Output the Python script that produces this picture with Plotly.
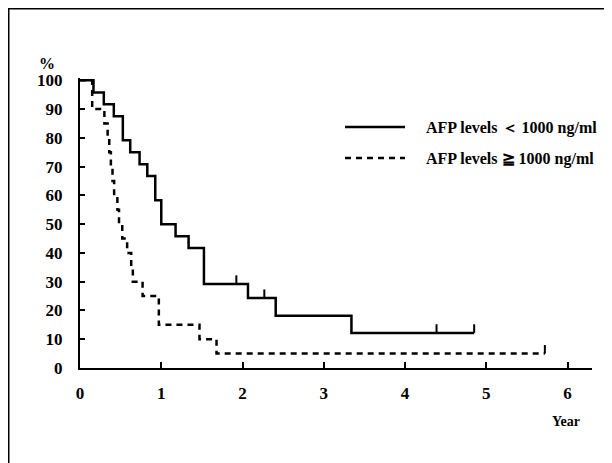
import plotly.graph_objects as go

# ---- data ----
solid_times = [0, 0.166, 0.293, 0.416, 0.527, 0.618, 0.733, 0.828, 0.926, 1.0, 1.176,
               1.336, 1.525, 2.067, 2.408, 3.34, 4.85]
solid_surv = [100, 95.8, 91.7, 87.5, 79.2, 75.0, 70.8, 66.7, 58.3, 50.0, 45.8,
              41.7, 29.2, 24.3, 18.2, 12.2, 12.2]
solid_cens_t = [1.924, 2.268, 4.387, 4.85]
solid_cens_s = [29.2, 24.3, 12.2, 12.2]

dash_times = [0, 0.15, 0.30, 0.34, 0.36, 0.38, 0.40, 0.42, 0.46, 0.48, 0.52, 0.58,
              0.63, 0.65, 0.77, 0.97, 1.47, 1.68, 5.72]
dash_surv = [100, 90, 85, 80, 75, 70, 65, 60, 55, 50, 45, 40, 35, 30, 25, 15, 10, 5, 5]
dash_cens_t = [5.72]
dash_cens_s = [5]

x_ticks = [0, 1, 2, 3, 4, 5, 6]
y_ticks = [0, 10, 20, 30, 40, 50, 60, 70, 80, 90, 100]

label_lo = "\u00a0\u00a0\u00a0\u00a0AFP levels ＜ 1000 ng/ml"
label_hi = "\u00a0\u00a0\u00a0\u00a0AFP levels ≧ 1000 ng/ml"

FONT = "Liberation Serif"

fig = go.Figure()
fig.add_trace(go.Scatter(x=solid_times, y=solid_surv, mode="lines", line_shape="hv",
                         line=dict(color="black", width=2.5), name=label_lo,
                         legend="legend"))
fig.add_trace(go.Scatter(x=dash_times, y=dash_surv, mode="lines", line_shape="hv",
                         line=dict(color="black", width=2.5, dash="6px,5px"), name=label_hi,
                         legend="legend2"))
# censor marks (vertical ticks above the curve)
for t, s in ((solid_cens_t, solid_cens_s), (dash_cens_t, dash_cens_s)):
    fig.add_trace(go.Scatter(x=t, y=s, mode="markers", marker=dict(size=1, color="rgba(0,0,0,0)"),
                             error_y=dict(type="data", symmetric=False, array=[3] * len(t),
                                          arrayminus=[0] * len(t), thickness=2, width=0,
                                          color="black"),
                             showlegend=False, hoverinfo="skip"))

# page body adds an 8px offset; positions below are in figure pixels
OFF = 8
W, H = 612, 463
ML, MT = 80 - OFF, 78 - OFF
PR, PB = 592 - OFF, 368 - OFF
MR, MB = W - PR, H - PB
pw, ph = W - ML - MR, H - MT - MB

def px2x(px):
    return (px - OFF - ML) / pw

def px2y(py):
    return (H - MB - (py - OFF)) / ph

fig.update_layout(
    width=W, height=H,
    margin=dict(l=ML, r=MR, t=MT, b=MB),
    paper_bgcolor="white", plot_bgcolor="white",
    font=dict(family=FONT, color="black"),
    xaxis=dict(range=[0, 6.30], tickvals=x_ticks, ticktext=[str(v) for v in x_ticks],
               showgrid=False, zeroline=False, showline=True, linecolor="black", linewidth=2,
               ticks="inside", ticklen=6, tickwidth=1.5, tickcolor="black",
               tickfont=dict(family=FONT, size=17, weight="bold"), ticklabelstandoff=9),
    yaxis=dict(range=[0, 100.8], tickvals=y_ticks, ticktext=[str(v) for v in y_ticks],
               showgrid=False, zeroline=False, showline=True, linecolor="black", linewidth=2,
               ticks="inside", ticklen=5, tickwidth=1.5, tickcolor="black",
               tickfont=dict(family=FONT, size=17, weight="bold"), ticklabelstandoff=12),
    legend=dict(x=px2x(340), y=px2y(127), xanchor="left", yanchor="middle",
                font=dict(family=FONT, size=16, weight="bold"), itemwidth=60,
                bgcolor="rgba(0,0,0,0)"),
    legend2=dict(x=px2x(340), y=px2y(158), xanchor="left", yanchor="middle",
                 font=dict(family=FONT, size=16, weight="bold"), itemwidth=60,
                 bgcolor="rgba(0,0,0,0)"),
    shapes=[dict(type="rect", xref="paper", yref="paper",
                 x0=(0.75 - ML) / pw, x1=px2x(609), y0=px2y(480), y1=(H - MB - 0.75) / ph,
                 line=dict(color="black", width=1.5), layer="below")],
    annotations=[
        dict(text="%", xref="paper", yref="paper", x=px2x(47), y=px2y(63),
             xanchor="center", yanchor="middle",
             showarrow=False, font=dict(family=FONT, size=16, weight="bold")),
        dict(text="Year", xref="paper", yref="paper", x=px2x(566), y=px2y(421),
             xanchor="center", yanchor="middle",
             showarrow=False, font=dict(family=FONT, size=14, weight="bold")),
    ],
)

fig.write_html("out.html")
